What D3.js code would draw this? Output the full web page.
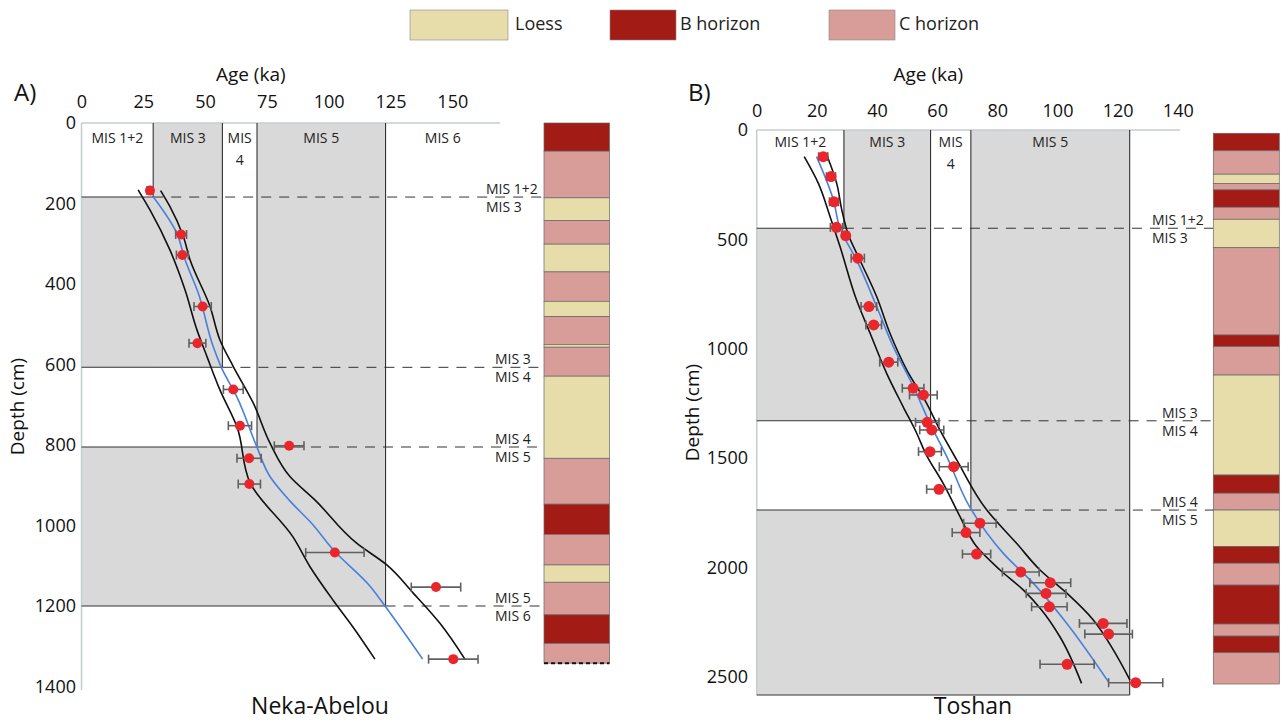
<!DOCTYPE html>
<html>
<head>
<meta charset="utf-8">
<script src="https://cdnjs.cloudflare.com/ajax/libs/d3/7.8.5/d3.min.js"></script>
<style>
body{margin:0;background:#fff}
svg{font-family:"Open Sans",sans-serif}
</style>
</head>
<body>
<div id="chart"></div>
<script>
// ---- Neka-Abelou (A) ----
var nekaAge   = [27.7,40.3,40.8,49.0,46.9,61.4,64.1,84.0,67.8,67.9,102.5,143.4,150.4];
var nekaDepth = [168,277,328,456,547,662,752,802,833,897,1067,1153,1332];
var nekaErr   = [1.2,2.2,2.4,3.5,3.4,4.0,4.7,6.0,4.9,4.5,11.8,10.0,10.0];

var nekaModelAge   = [29.0,38.5,41.9,47.2,53.3,56.7,62.8,70.9,76.3,84.0,93.0,101.9,116.9,123.0,138.0];
var nekaModelDepth = [183,273,340,422,556,609,680,804,879,937,994,1061,1152,1202,1332];
var nekaLowAge     = [22.9,27.7,35.8,41.9,46.7,50.8,56.0,62.9,68.2,85.6,92.5,101.7,109.8,118.7];
var nekaLowDepth   = [166,216,316,415,514,581,663,755,894,1029,1103,1185,1252,1332];
var nekaHighAge    = [32.0,35.8,41.2,43.9,52.0,56.0,61.4,69.5,76.3,84.4,94.5,111.3,123.5,134.2,145.0,155.1];
var nekaHighDepth  = [168,208,282,340,456,539,605,696,796,879,937,1044,1098,1168,1243,1332];

var nekaMisAge   = [29,57,71,123];
var nekaMisDepth = [184,607,805,1200];
var nekaStages   = ['MIS 1+2','MIS 3','MIS 4','MIS 5','MIS 6'];

var nekaLayerBounds = [0,70,186,242,301,370,443,481,550,557,629,833,947,1022,1098,1141,1222,1293,1342];
var nekaLayerTypes  = ['B','C','L','C','L','C','L','C','L','C','L','C','B','C','L','C','B','C'];

var nekaTickAge   = [0,25,50,75,100,125,150];
var nekaTickDepth = [0,200,400,600,800,1000,1200,1400];

// ---- Toshan (B) ----
var toshanAge   = [22.1,24.7,25.7,26.5,29.6,33.6,37.3,38.9,43.9,52.0,55.4,56.7,58.2,57.6,65.5,60.6,74.2,69.6,73.1,87.8,97.6,96.2,97.3,115.2,117.0,103.2,126.0];
var toshanDepth = [122,213,328,445,483,586,807,891,1061,1180,1211,1336,1371,1470,1539,1642,1797,1840,1938,2020,2069,2118,2179,2255,2304,2442,2526];
var toshanErr   = [1.5,1.5,1.5,2.0,1.0,2.2,2.6,2.6,3.0,3.6,4.6,3.9,4.0,3.8,4.8,4.1,5.4,4.6,4.7,6.1,6.8,6.6,5.9,7.9,7.9,9.0,9.0];

var toshanModelAge   = [19.9,25.5,27.7,33.2,39.9,45.4,52.1,57.6,63.2,70.9,82.0,92.0,103.1,116.9];
var toshanModelDepth = [122,320,449,594,808,990,1173,1341,1493,1725,1935,2072,2255,2521];
var toshanLowAge     = [15.8,20.5,24.4,27.7,33.2,37.7,43.2,48.7,53.2,56.2,62.0,67.6,73.1,80.9,88.6,94.7,100.8,108.0];
var toshanLowDepth   = [122,244,396,533,777,929,1112,1265,1386,1480,1615,1767,1904,2011,2102,2194,2316,2529];
var toshanHighAge    = [23.3,26.6,28.3,30.5,34.3,39.9,44.3,49.9,56.5,60.9,66.5,76.5,86.4,94.2,103.1,111.9,118.6,124.1];
var toshanHighDepth  = [114,244,366,480,594,762,929,1097,1249,1371,1508,1737,1889,2011,2117,2239,2377,2514];

var toshanMisAge   = [29,57.8,71.2,124];
var toshanMisDepth = [449,1329,1737];
var toshanStages   = ['MIS 1+2','MIS 3','MIS 4','MIS 5'];

var toshanLayerBounds = [15,95,202,244,274,353,408,538,937,990,1120,1577,1660,1737,1904,1980,2080,2258,2313,2389,2532];
var toshanLayerTypes  = ['B','C','L','C','B','C','L','C','B','C','L','B','C','L','B','C','B','C','B','C'];

var toshanTickAge   = [0,20,40,60,80,100,120,140];
var toshanTickDepth = [0,500,1000,1500,2000,2500];

// legend
var legendNames = ['Loess','B horizon','C horizon'];
var legendKeys  = ['L','B','C'];
var layerColor  = {L:'#e6ddab', B:'#a31b15', C:'#d99d99'};

var svg = d3.select('#chart').append('svg')
    .attr('width',1283)
    .attr('height',722);

// legend
var legX = [410,610,829];
legendKeys.forEach(function(k,i){
    svg.append('rect').attr('x',legX[i]).attr('y',10).attr('width',i==0?98:66).attr('height',30)
        .attr('fill',layerColor[k]).attr('stroke','#888').attr('stroke-width',0.6);
    svg.append('text').attr('x',legX[i]+(i==0?105:70)).attr('y',30)
        .attr('font-size',18).attr('fill','#222').text(legendNames[i]);
});

panel({
    letter:'A)', letterX:14, title:'Neka-Abelou', titleX:320,
    age:nekaAge, depth:nekaDepth, err:nekaErr,
    mAge:nekaModelAge, mDepth:nekaModelDepth,
    loAge:nekaLowAge, loDepth:nekaLowDepth, hiAge:nekaHighAge, hiDepth:nekaHighDepth,
    misAge:nekaMisAge, misDepth:nekaMisDepth, stages:nekaStages,
    layerB:nekaLayerBounds, layerT:nekaLayerTypes,
    tickAge:nekaTickAge, tickDepth:nekaTickDepth,
    x0:81.5, x1:452.3, right:500, y0:123, y1:686.5, bottom:690,
    tickY:108, ylabX:76, stageY:143,
    colX:544, colW:65.5, labX:[486,495,495,495], dashEnd:[544,544,544,544],
    r:5, dotted:true
});

panel({
    letter:'B)', letterX:688, title:'Toshan', titleX:973,
    age:toshanAge, depth:toshanDepth, err:toshanErr,
    mAge:toshanModelAge, mDepth:toshanModelDepth,
    loAge:toshanLowAge, loDepth:toshanLowDepth, hiAge:toshanHighAge, hiDepth:toshanHighDepth,
    misAge:toshanMisAge, misDepth:toshanMisDepth, stages:toshanStages,
    layerB:toshanLayerBounds, layerT:toshanLayerTypes,
    tickAge:toshanTickAge, tickDepth:toshanTickDepth,
    x0:756.7, x1:1177.8, right:1180, y0:130, y1:677, bottom:695,
    tickY:117, ylabX:748, stageY:147,
    colX:1213.3, colW:66, labX:[1152,1162,1162], dashEnd:[1213,1213,1255],
    r:5.5, dotted:false
});

function panel(c){
    var g = svg.append('g');
    var x = d3.scaleLinear().domain([0,c.tickAge[c.tickAge.length-1]]).range([c.x0,c.x1]);
    var y = d3.scaleLinear().domain([0,c.tickDepth[c.tickDepth.length-1]]).range([c.y0,c.y1]);
    var ageMax = x.invert(c.right), depthMax = y.invert(c.bottom);
    var bA = [0].concat(c.misAge,[ageMax]);
    var bD = [0].concat(c.misDepth,[depthMax]);

    // grey blocks for odd stages (MIS 3, MIS 5)
    [1,3].forEach(function(k){
        if(bD[k]===undefined) return;
        var dEnd = bD[k+1]===undefined ? depthMax : bD[k+1];
        g.append('rect').attr('x',x(bA[k])).attr('y',y(0))
            .attr('width',x(bA[k+1])-x(bA[k])).attr('height',y(dEnd)-y(0)).attr('fill','#d9d9d9');
        g.append('rect').attr('x',x(0)).attr('y',y(bD[k]))
            .attr('width',x(bA[k+1])-x(0)).attr('height',y(dEnd)-y(bD[k])).attr('fill','#d9d9d9');
    });

    // axis frame lines
    g.append('line').attr('x1',x(0)).attr('x2',c.right).attr('y1',y(0)).attr('y2',y(0))
        .attr('stroke','#c5ccd0').attr('stroke-width',1.5);
    g.append('line').attr('x1',x(0)).attr('x2',x(0)).attr('y1',y(0)).attr('y2',c.bottom)
        .attr('stroke','#c5ccd0').attr('stroke-width',1.5);

    // stage boundaries
    c.misAge.forEach(function(a,k){
        var dEnd = bD[k+1];
        g.append('line').attr('x1',x(a)).attr('x2',x(a)).attr('y1',y(0)).attr('y2',y(dEnd))
            .attr('stroke','#333').attr('stroke-width',1.1);
        g.append('line').attr('x1',x(0)).attr('x2',x(a)).attr('y1',y(dEnd)).attr('y2',y(dEnd))
            .attr('stroke','#333').attr('stroke-width',1.1);
    });
    c.misDepth.forEach(function(d,k){
        g.append('line').attr('x1',x(c.misAge[k])).attr('x2',c.dashEnd[k])
            .attr('y1',y(d)).attr('y2',y(d))
            .attr('stroke','#333').attr('stroke-width',1).attr('stroke-dasharray','10,8');
        g.append('text').attr('x',c.labX[k]).attr('y',y(d)-3)
            .attr('font-size',14).attr('fill','#222').text(c.stages[k]);
        g.append('text').attr('x',c.labX[k]).attr('y',y(d)+15)
            .attr('font-size',14).attr('fill','#222').text(c.stages[k+1]);
    });

    // stage names at top
    c.stages.forEach(function(s,k){
        var cx = (x(bA[k])+x(bA[k+1]))/2;
        if(s=='MIS 4'){
            g.append('text').attr('x',cx).attr('y',c.stageY).attr('text-anchor','middle')
                .attr('font-size',14).attr('fill','#222').text('MIS');
            g.append('text').attr('x',cx).attr('y',c.stageY+22).attr('text-anchor','middle')
                .attr('font-size',14).attr('fill','#222').text('4');
        } else {
            g.append('text').attr('x',cx).attr('y',c.stageY).attr('text-anchor','middle')
                .attr('font-size',14).attr('fill','#222').text(s);
        }
    });

    // axes
    var ax = g.append('g').attr('transform','translate(0,'+c.tickY+')')
        .call(d3.axisTop(x).tickValues(c.tickAge).tickFormat(d3.format('d')).tickSize(0).tickPadding(0));
    ax.select('.domain').remove();
    ax.selectAll('text').attr('font-size',18).attr('fill','#111').attr('font-family','"Open Sans",sans-serif');

    var ay = g.append('g').attr('transform','translate('+c.ylabX+',0)')
        .call(d3.axisLeft(y).tickValues(c.tickDepth).tickFormat(d3.format('d')).tickSize(0).tickPadding(0));
    ay.select('.domain').remove();
    ay.selectAll('text').attr('font-size',18).attr('fill','#111').attr('font-family','"Open Sans",sans-serif');

    g.append('text').attr('x',(x(0)+c.right)/2-40).attr('y',81).attr('text-anchor','middle')
        .attr('font-size',19).attr('fill','#111').text('Age (ka)');
    g.append('text').attr('transform','translate('+(x(0)-58)+','+((y(0)+c.bottom)/2)+') rotate(-90)')
        .attr('text-anchor','middle').attr('font-size',19).attr('fill','#111').text('Depth (cm)');
    g.append('text').attr('x',c.letterX).attr('y',101).attr('font-size',24).attr('fill','#111').text(c.letter);
    g.append('text').attr('x',c.titleX).attr('y',714).attr('text-anchor','middle')
        .attr('font-size',23).attr('fill','#111').text(c.title);

    // age model
    var line = d3.line().x(function(d){return x(d[0])}).y(function(d){return y(d[1])}).curve(d3.curveMonotoneY);
    g.append('path').datum(d3.zip(c.loAge,c.loDepth)).attr('d',line)
        .attr('fill','none').attr('stroke','#111').attr('stroke-width',1.6);
    g.append('path').datum(d3.zip(c.hiAge,c.hiDepth)).attr('d',line)
        .attr('fill','none').attr('stroke','#111').attr('stroke-width',1.6);
    g.append('path').datum(d3.zip(c.mAge,c.mDepth)).attr('d',line)
        .attr('fill','none').attr('stroke','#4a7fdc').attr('stroke-width',1.6);

    // error bars and dates
    var pts = d3.zip(c.age,c.depth,c.err);
    var eb = g.selectAll('.eb').data(pts).enter().append('g').attr('class','eb');
    eb.append('line').attr('x1',function(d){return x(d[0]-d[2])}).attr('x2',function(d){return x(d[0]+d[2])})
        .attr('y1',function(d){return y(d[1])}).attr('y2',function(d){return y(d[1])});
    eb.append('line').attr('x1',function(d){return x(d[0]-d[2])}).attr('x2',function(d){return x(d[0]-d[2])})
        .attr('y1',function(d){return y(d[1])-4.5}).attr('y2',function(d){return y(d[1])+4.5});
    eb.append('line').attr('x1',function(d){return x(d[0]+d[2])}).attr('x2',function(d){return x(d[0]+d[2])})
        .attr('y1',function(d){return y(d[1])-4.5}).attr('y2',function(d){return y(d[1])+4.5});
    eb.selectAll('line').attr('stroke','#606060').attr('stroke-width',1.6);
    g.selectAll('.pt').data(pts).enter().append('circle')
        .attr('cx',function(d){return x(d[0])})
        .attr('cy',function(d){return y(d[1])})
        .attr('r',c.r).attr('fill','#e8262b');

    // stratigraphic column
    var col = g.append('g');
    c.layerT.forEach(function(t,i){
        col.append('rect').attr('x',c.colX).attr('width',c.colW)
            .attr('y',y(c.layerB[i])).attr('height',y(c.layerB[i+1])-y(c.layerB[i]))
            .attr('fill',layerColor[t]).attr('stroke','#666').attr('stroke-width',0.7);
    });
    if(c.dotted){
        var yb = y(c.layerB[c.layerB.length-1]);
        col.append('line').attr('x1',c.colX).attr('x2',c.colX+c.colW).attr('y1',yb).attr('y2',yb)
            .attr('stroke','#111').attr('stroke-width',2).attr('stroke-dasharray','4,3');
    }
}
</script>
</body>
</html>
